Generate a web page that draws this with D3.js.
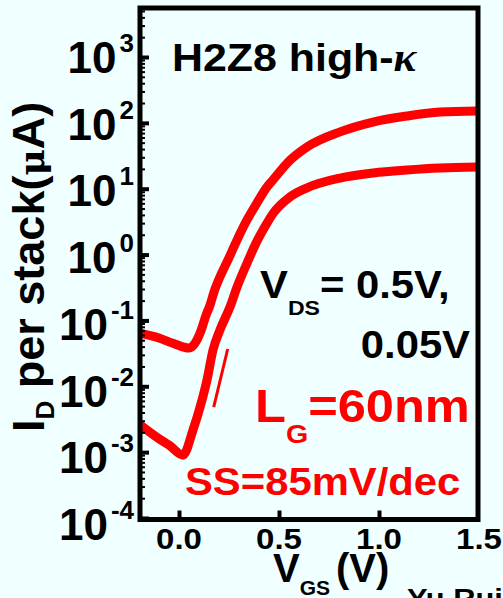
<!DOCTYPE html>
<html>
<head>
<meta charset="utf-8">
<script src="https://cdn.jsdelivr.net/npm/d3@7"></script>
<style>
  body { margin: 0; background: #f0ffff; }
  text { font-family: "Liberation Sans", Arial, sans-serif; font-weight: bold; }
</style>
</head>
<body>
<div id="chart"></div>
<script>
// V_DS = 0.5 V curve
const vgsHigh = [-0.195, -0.10, -0.03, 0.05, 0.08, 0.11, 0.135, 0.155, 0.175, 0.205, 0.245, 0.29, 0.34, 0.39, 0.44, 0.47, 0.555, 0.64, 0.805, 0.97, 1.14, 1.305, 1.495];
const idHigh  = [0.064, 0.054, 0.045, 0.038, 0.045, 0.07, 0.12, 0.17, 0.27, 0.46, 0.83, 1.66, 3.35, 6.1, 10.6, 13.6, 27, 43, 73, 103, 127, 146, 152];

// V_DS = 0.05 V curve
const vgsLow = [-0.195, -0.10, -0.05, 0.02, 0.07, 0.105, 0.14, 0.17, 0.205, 0.255, 0.29, 0.34, 0.39, 0.44, 0.47, 0.555, 0.64, 0.805, 0.97, 1.14, 1.305, 1.495];
const idLow  = [0.0026, 0.0016, 0.00128, 0.0009, 0.00217, 0.0048, 0.0125, 0.0356, 0.072, 0.16, 0.32, 0.74, 1.6, 3.0, 4.2, 7.5, 10.3, 14.5, 17.3, 19.2, 20.6, 21.3];

// subthreshold slope marker
const ssVgs = [0.2435, 0.1735];
const ssId  = [0.0368, 0.00484];

const xTicks = [0.0, 0.5, 1.0, 1.5];
const xTickLabels = ["0.0", "0.5", "1.0", "1.5"];
const yExps = [3, 2, 1, 0, -1, -2, -3, -4];

const width = 503, height = 598;
const plotLeft = 140, plotRight = 478, plotTop = 8, plotBottom = 519.5;
const sx = 1.1; // fonts in the picture are a bit wide

const svg = d3.select("#chart").append("svg")
    .attr("width", width)
    .attr("height", height);

svg.append("rect").attr("width", width).attr("height", height).attr("fill", "#f0ffff");

const x = d3.scaleLinear().domain([-0.195, 1.495]).range([plotLeft, plotRight]);
const y = d3.scaleLog().domain([1e-4, 1e3]).range([518, 57]);

function place(sel, px, py) {
    return sel.attr("transform", `translate(${px},${py}) scale(${sx},1)`);
}

svg.append("clipPath").attr("id", "clip")
    .append("rect").attr("x", plotLeft).attr("y", plotTop)
    .attr("width", plotRight - plotLeft).attr("height", plotBottom - plotTop);

const line = d3.line()
    .x(d => x(d[0]))
    .y(d => y(d[1]))
    .curve(d3.curveMonotoneX);

const curves = [
    vgsHigh.map((v, i) => [v, idHigh[i]]),
    vgsLow.map((v, i) => [v, idLow[i]])
];

svg.append("g").attr("clip-path", "url(#clip)")
    .selectAll("path")
    .data(curves)
    .enter().append("path")
    .attr("d", line)
    .attr("fill", "none")
    .attr("stroke", "#ff0000")
    .attr("stroke-width", 9);

svg.append("path")
    .attr("d", d3.line().x(d => x(d[0])).y(d => y(d[1]))(ssVgs.map((v, i) => [v, ssId[i]])))
    .attr("stroke", "#ff0000")
    .attr("stroke-width", 3);

// left axis ticks (inward)
const majors = yExps.map(e => Math.pow(10, e));
const minors = [];
for (let e = -4; e < 4; e++) {
    for (let k = 2; k < 10; k++) {
        const v = k * Math.pow(10, e);
        if (y(v) > plotTop + 2) minors.push(v);
    }
}

svg.append("g").attr("transform", `translate(${plotLeft},0)`)
    .call(d3.axisRight(y).tickValues(minors).tickSize(5).tickFormat(""))
    .call(g => g.select(".domain").remove())
    .call(g => g.selectAll("line").attr("stroke", "#000").attr("stroke-width", 2));

svg.append("g").attr("transform", `translate(${plotLeft},0)`)
    .call(d3.axisRight(y).tickValues(majors).tickSize(9).tickFormat(""))
    .call(g => g.select(".domain").remove())
    .call(g => g.selectAll("line").attr("stroke", "#000").attr("stroke-width", 4));

// bottom axis ticks (inward)
svg.append("g").attr("transform", `translate(0,${plotBottom})`)
    .call(d3.axisTop(x).tickValues(xTicks.slice(0, 3)).tickSize(9).tickFormat(""))
    .call(g => g.select(".domain").remove())
    .call(g => g.selectAll("line").attr("stroke", "#000").attr("stroke-width", 4));

// frame
svg.append("rect")
    .attr("x", plotLeft).attr("y", plotTop)
    .attr("width", plotRight - plotLeft).attr("height", plotBottom - plotTop)
    .attr("fill", "none").attr("stroke", "#000").attr("stroke-width", 5);

// y tick labels
const yl = svg.append("g").selectAll("text")
    .data(yExps)
    .enter().append("text")
    .attr("x", 134)
    .attr("y", d => y(Math.pow(10, d)) + 16 + (3 - d) * 0.85)
    .attr("text-anchor", "end")
    .attr("font-size", 44);
yl.append("tspan").text("10");
yl.append("tspan").attr("dx", 3).attr("dy", -21).attr("font-size", 26).text(d => d);

// x tick labels
svg.append("g").selectAll("text")
    .data(xTicks)
    .enter().append("text")
    .each(function (d) { place(d3.select(this), x(d), 549); })
    .attr("text-anchor", "middle")
    .attr("font-size", 30)
    .text((d, i) => xTickLabels[i]);

// x axis title
const xt = svg.append("text").attr("x", 273).attr("y", 582).attr("font-size", 40);
xt.append("tspan").text("V");
xt.append("tspan").attr("dy", 13).attr("font-size", 21).text("GS");
xt.append("tspan").attr("dy", -13).attr("dx", 6).text("(V)");

// y axis title
const yt = svg.append("text")
    .attr("transform", "translate(44,432) rotate(-90)")
    .attr("font-size", 45);
yt.append("tspan").text("I");
yt.append("tspan").attr("dy", 10).attr("font-size", 26).text("D");
yt.append("tspan").attr("dy", -10).text(" per stack(");
yt.append("tspan").style("font-family", "'DejaVu Serif', serif").attr("font-size", 36).text("μ");
yt.append("tspan").text("A)");

// annotations
const title = place(svg.append("text"), 172, 71).attr("font-size", 39);
title.append("tspan").text("H2Z8 high-");
title.append("tspan").style("font-family", "'Liberation Serif', serif").style("font-style", "italic").text("κ");

const vds = place(svg.append("text"), 260, 298).attr("font-size", 38);
vds.append("tspan").text("V");
vds.append("tspan").attr("dy", 17).attr("font-size", 21).text("DS");
vds.append("tspan").attr("dy", -17).text("= 0.5V,");

place(svg.append("text"), 470, 358).attr("font-size", 38)
    .attr("text-anchor", "end").text("0.05V");

const lg = place(svg.append("text"), 255, 422).attr("font-size", 46).attr("fill", "#ff0000");
lg.append("tspan").text("L");
lg.append("tspan").attr("dy", 21).attr("font-size", 26).text("G");
lg.append("tspan").attr("dy", -21).text("=60nm");

place(svg.append("text"), 185, 495).attr("font-size", 38)
    .attr("fill", "#ff0000").text("SS=85mV/dec");

place(svg.append("text"), 407, 608).attr("font-size", 28).text("Yu Rui");
</script>
</body>
</html>
